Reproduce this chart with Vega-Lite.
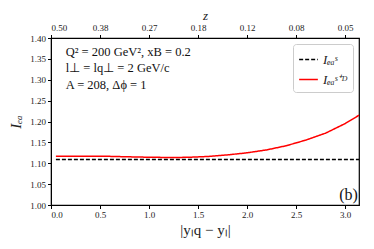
{
  "$schema": "https://vega.github.io/schema/vega-lite/v6.json",
  "autosize": {"type": "none"},
  "padding": {"left": 51, "top": 38, "right": 14, "bottom": 44},
  "width": 308,
  "height": 167,
  "config": {
    "font": "Liberation Serif",
    "view": {"stroke": "black", "strokeWidth": 1.2},
    "axis": {"grid": false, "domainColor": "black", "tickColor": "black", "labelColor": "#222", "labelFont": "Liberation Serif", "labelFontSize": 9, "tickSize": 3.5, "titleFont": "Liberation Serif", "titleFontWeight": "normal", "titleColor": "#222"},
    "legend": {"labelFont": "Liberation Serif"},
    "text": {"font": "Liberation Serif"}
  },
  "datasets": {
    "curves": [
      {"x": 0.05, "y": 1.109, "s": "Iₑₐˢ"},
      {"x": 3.1416, "y": 1.109, "s": "Iₑₐˢ"},
      {"x": 0.05, "y": 1.117, "s": "Iₑₐˢ⁺ᴰ"},
      {"x": 0.3, "y": 1.117, "s": "Iₑₐˢ⁺ᴰ"},
      {"x": 0.6, "y": 1.1165, "s": "Iₑₐˢ⁺ᴰ"},
      {"x": 0.9, "y": 1.1148, "s": "Iₑₐˢ⁺ᴰ"},
      {"x": 1.2, "y": 1.1138, "s": "Iₑₐˢ⁺ᴰ"},
      {"x": 1.4, "y": 1.1142, "s": "Iₑₐˢ⁺ᴰ"},
      {"x": 1.6, "y": 1.1162, "s": "Iₑₐˢ⁺ᴰ"},
      {"x": 1.8, "y": 1.1200, "s": "Iₑₐˢ⁺ᴰ"},
      {"x": 2.0, "y": 1.1250, "s": "Iₑₐˢ⁺ᴰ"},
      {"x": 2.2, "y": 1.1320, "s": "Iₑₐˢ⁺ᴰ"},
      {"x": 2.4, "y": 1.1420, "s": "Iₑₐˢ⁺ᴰ"},
      {"x": 2.6, "y": 1.1555, "s": "Iₑₐˢ⁺ᴰ"},
      {"x": 2.8, "y": 1.1720, "s": "Iₑₐˢ⁺ᴰ"},
      {"x": 3.0, "y": 1.1950, "s": "Iₑₐˢ⁺ᴰ"},
      {"x": 3.1416, "y": 1.2150, "s": "Iₑₐˢ⁺ᴰ"}
    ]
  },
  "layer": [
    {
      "data": {"name": "curves"},
      "mark": {"type": "line", "strokeWidth": 1.5, "clip": true},
      "encoding": {
        "x": {"field": "x", "type": "quantitative", "scale": {"domain": [0, 3.1416], "nice": false, "zero": false},
              "axis": {"orient": "bottom", "values": [0, 0.5, 1, 1.5, 2, 2.5, 3], "format": ".1f", "title": "|yₗq − yₗ|", "titleFontSize": 15, "titlePadding": 3}},
        "y": {"field": "y", "type": "quantitative", "scale": {"domain": [1.0, 1.4], "nice": false, "zero": false},
              "axis": {"values": [1.0, 1.05, 1.1, 1.15, 1.2, 1.25, 1.3, 1.35, 1.4], "format": ".2f", "title": "Iₑₐ", "titleFontSize": 15, "titlePadding": 6, "titleFontStyle": "italic"}},
        "color": {"field": "s", "type": "nominal", "scale": {"domain": ["Iₑₐˢ", "Iₑₐˢ⁺ᴰ"], "range": ["black", "red"]},
                  "legend": {"title": null, "orient": "top-right", "offset": 6, "symbolType": "stroke", "symbolSize": 350, "symbolStrokeWidth": 1.5, "labelFontSize": 13, "labelFontStyle": "italic", "labelColor": "#222", "strokeColor": "#ccc", "cornerRadius": 3, "padding": 5, "fillColor": "white", "rowPadding": 2}},
        "strokeDash": {"field": "s", "type": "nominal", "scale": {"domain": ["Iₑₐˢ", "Iₑₐˢ⁺ᴰ"], "range": [[4, 2], [1, 0]]}, "legend": null}
      }
    },
    {
      "data": {"name": "curves"},
      "mark": {"type": "point", "opacity": 0},
      "encoding": {
        "x": {"field": "x", "type": "quantitative",
              "axis": {"orient": "top", "values": [0, 0.5, 1, 1.5, 2, 2.5, 3], "labelExpr": "datum.value == 0 ? '0.50' : datum.value == 0.5 ? '0.38' : datum.value == 1 ? '0.27' : datum.value == 1.5 ? '0.18' : datum.value == 2 ? '0.12' : datum.value == 2.5 ? '0.08' : '0.05'", "title": "z", "titleFontSize": 13, "titleFontStyle": "italic", "titlePadding": 1}},
        "y": {"field": "y", "type": "quantitative",
              "axis": {"values": [1.0, 1.05, 1.1, 1.15, 1.2, 1.25, 1.3, 1.35, 1.4], "format": ".2f", "title": "Iₑₐ", "titleFontSize": 15, "titlePadding": 6, "titleFontStyle": "italic"}}
      }
    },
    {
      "data": {"values": [{"t": "Q² = 200 GeV², xB = 0.2"}]},
      "mark": {"type": "text", "align": "left", "baseline": "middle", "fontSize": 12.5, "font": "Liberation Serif", "color": "#111"},
      "encoding": {
        "text": {"field": "t"},
        "x": {"datum": 0.15, "type": "quantitative", "axis": null},
        "y": {"datum": 1.366, "type": "quantitative",
              "axis": {"values": [1.0, 1.05, 1.1, 1.15, 1.2, 1.25, 1.3, 1.35, 1.4], "format": ".2f", "title": "Iₑₐ", "titleFontSize": 15, "titlePadding": 6, "titleFontStyle": "italic"}}
      }
    },
    {
      "data": {"values": [{"t": "l⊥ = lq⊥ = 2 GeV/c"}]},
      "mark": {"type": "text", "align": "left", "baseline": "middle", "fontSize": 12.5, "font": "Liberation Serif", "color": "#111"},
      "encoding": {
        "text": {"field": "t"},
        "x": {"datum": 0.15, "type": "quantitative", "axis": null},
        "y": {"datum": 1.327, "type": "quantitative",
              "axis": {"values": [1.0, 1.05, 1.1, 1.15, 1.2, 1.25, 1.3, 1.35, 1.4], "format": ".2f", "title": "Iₑₐ", "titleFontSize": 15, "titlePadding": 6, "titleFontStyle": "italic"}}
      }
    },
    {
      "data": {"values": [{"t": "A = 208,  Δϕ = 1"}]},
      "mark": {"type": "text", "align": "left", "baseline": "middle", "fontSize": 12.5, "font": "Liberation Serif", "color": "#111"},
      "encoding": {
        "text": {"field": "t"},
        "x": {"datum": 0.15, "type": "quantitative", "axis": null},
        "y": {"datum": 1.287, "type": "quantitative",
              "axis": {"values": [1.0, 1.05, 1.1, 1.15, 1.2, 1.25, 1.3, 1.35, 1.4], "format": ".2f", "title": "Iₑₐ", "titleFontSize": 15, "titlePadding": 6, "titleFontStyle": "italic"}}
      }
    },
    {
      "data": {"values": [{"t": "(b)"}]},
      "mark": {"type": "text", "align": "right", "baseline": "bottom", "fontSize": 16, "font": "Liberation Serif", "color": "#111"},
      "encoding": {
        "text": {"field": "t"},
        "x": {"datum": 3.13, "type": "quantitative", "axis": null},
        "y": {"datum": 1.005, "type": "quantitative",
              "axis": {"values": [1.0, 1.05, 1.1, 1.15, 1.2, 1.25, 1.3, 1.35, 1.4], "format": ".2f", "title": "Iₑₐ", "titleFontSize": 15, "titlePadding": 6, "titleFontStyle": "italic"}}
      }
    }
  ],
  "resolve": {"axis": {"x": "independent"}}
}
